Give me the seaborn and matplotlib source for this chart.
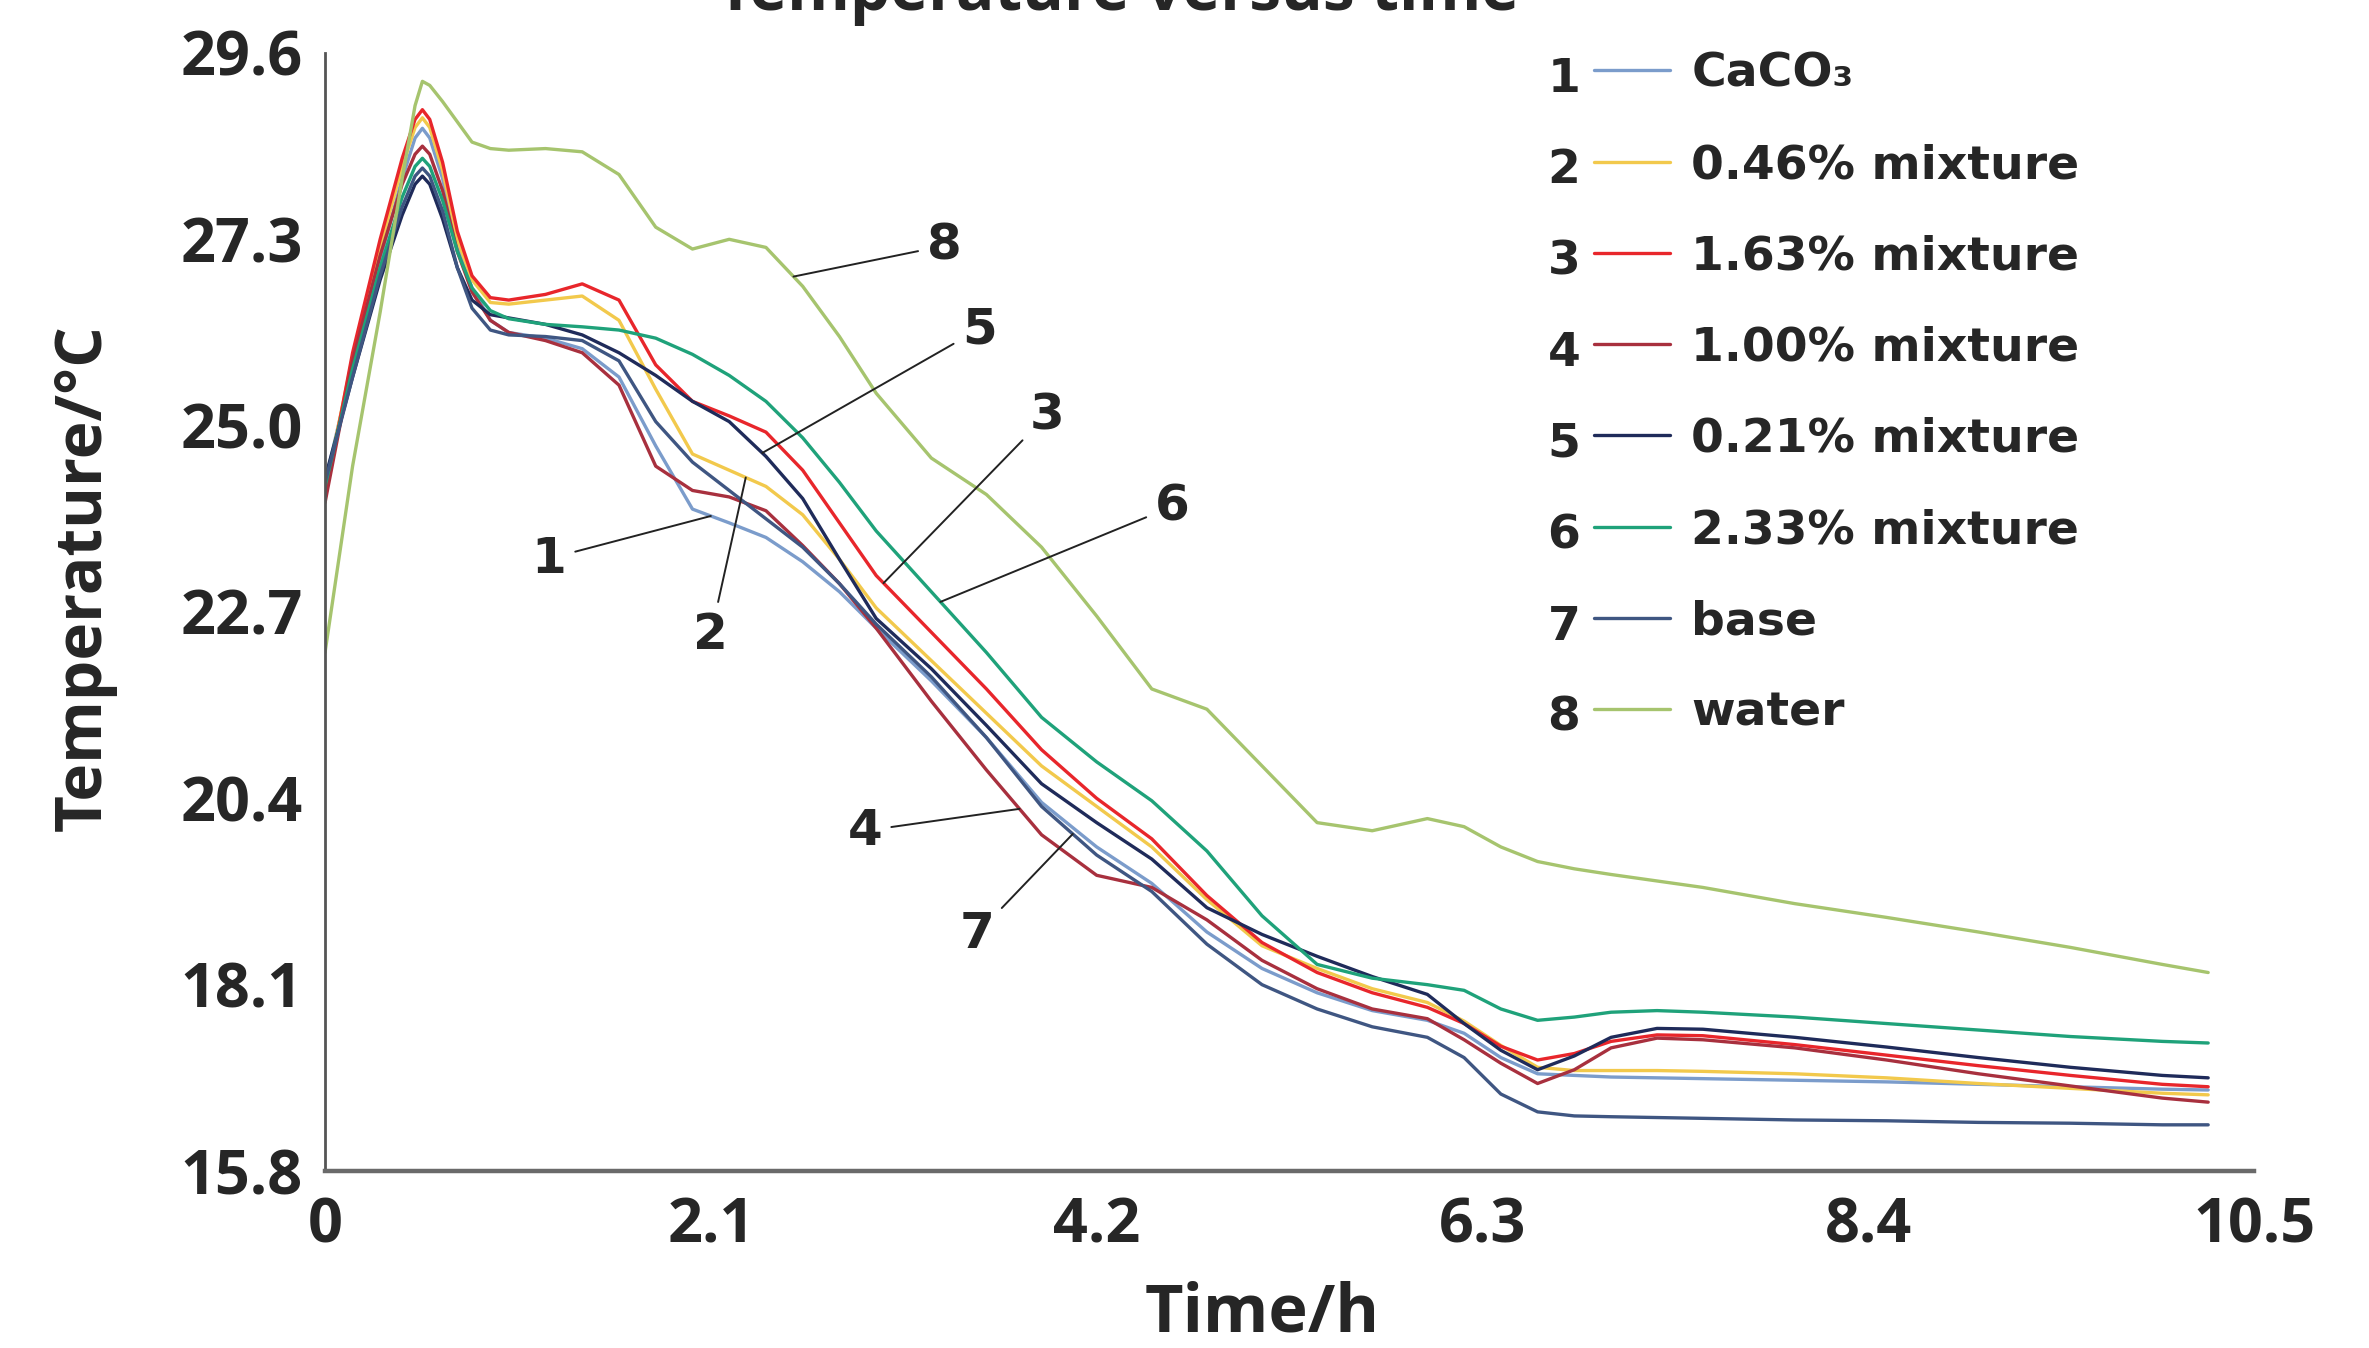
import matplotlib
matplotlib.use("Agg")
import numpy as np
import pandas as pd
import matplotlib.pyplot as plt
import matplotlib.transforms as mtransforms
from matplotlib.lines import Line2D
import seaborn as sns

# data (time in h, temperature in degC)
time_h = [0, 0.15, 0.3, 0.42, 0.49, 0.53, 0.57, 0.64, 0.72, 0.8, 0.9, 1.0, 1.2, 1.4, 1.6, 1.8, 2.0,
          2.2, 2.4, 2.6, 2.8, 3.0, 3.3, 3.6, 3.9, 4.2, 4.5, 4.8, 5.1, 5.4, 5.7,
          6.0, 6.2, 6.4, 6.6, 6.8, 7.0, 7.25, 7.5, 8.0, 8.5, 9.0, 9.5, 10.0, 10.25]

caco3 = [24.3, 25.75, 27.05, 28.05, 28.55, 28.67, 28.55, 28.05, 27.2, 26.7, 26.3, 26.15, 26.08, 25.95,
         25.6, 24.75, 23.97, 23.8, 23.62, 23.32, 22.95, 22.5, 21.85, 21.15, 20.35, 19.8, 19.35, 18.75,
         18.3, 18.0, 17.78, 17.66, 17.5, 17.2, 17.0, 16.98, 16.96, 16.95, 16.94, 16.92, 16.9, 16.87,
         16.84, 16.81, 16.8]
mix_046 = [24.2, 25.85, 27.2, 28.2, 28.68, 28.8, 28.68, 28.15, 27.3, 26.8, 26.52, 26.5, 26.55, 26.6,
           26.3, 25.45, 24.65, 24.45, 24.25, 23.9, 23.35, 22.75, 22.1, 21.45, 20.8, 20.3, 19.8, 19.15,
           18.58, 18.3, 18.05, 17.88, 17.65, 17.35, 17.08, 17.04, 17.04, 17.04, 17.03, 17.0, 16.95,
           16.88, 16.82, 16.76, 16.74]
mix_163 = [24.1, 25.9, 27.3, 28.3, 28.78, 28.9, 28.78, 28.25, 27.4, 26.85, 26.58, 26.55, 26.62, 26.75,
           26.55, 25.75, 25.3, 25.12, 24.92, 24.45, 23.8, 23.15, 22.45, 21.75, 21.0, 20.4, 19.9, 19.2,
           18.62, 18.25, 18.0, 17.82, 17.62, 17.34, 17.17, 17.25, 17.4, 17.48, 17.47, 17.36, 17.23,
           17.1, 16.98, 16.87, 16.84]
mix_100 = [24.05, 25.8, 27.1, 27.98, 28.35, 28.45, 28.35, 27.9, 27.15, 26.65, 26.3, 26.15, 26.05, 25.9,
           25.5, 24.5, 24.2, 24.12, 23.95, 23.52, 23.05, 22.5, 21.6, 20.75, 19.95, 19.45, 19.3, 18.9,
           18.4, 18.05, 17.8, 17.68, 17.42, 17.13, 16.88, 17.05, 17.32, 17.44, 17.42, 17.32, 17.17,
           17.0, 16.85, 16.7, 16.65]
mix_021 = [24.35, 25.6, 26.8, 27.6, 27.98, 28.08, 27.98, 27.55, 26.95, 26.55, 26.37, 26.33, 26.25, 26.12,
           25.9, 25.62, 25.3, 25.05, 24.62, 24.1, 23.35, 22.62, 22.0, 21.3, 20.58, 20.1, 19.65, 19.05,
           18.72, 18.45, 18.2, 17.98, 17.62, 17.29, 17.05, 17.22, 17.45, 17.56, 17.55, 17.45, 17.33,
           17.2, 17.08, 16.98, 16.95]
mix_233 = [24.25, 25.7, 26.95, 27.82, 28.2, 28.3, 28.2, 27.78, 27.15, 26.7, 26.42, 26.32, 26.25, 26.22,
           26.18, 26.08, 25.88, 25.62, 25.3, 24.85, 24.3, 23.7, 22.95, 22.2, 21.4, 20.85, 20.37, 19.75,
           18.95, 18.35, 18.18, 18.1, 18.03, 17.8, 17.66, 17.7, 17.76, 17.78, 17.76, 17.7, 17.62,
           17.54, 17.46, 17.4, 17.38]
base = [24.3, 25.6, 26.85, 27.7, 28.08, 28.18, 28.08, 27.65, 26.95, 26.45, 26.18, 26.12, 26.1, 26.05,
        25.8, 25.05, 24.55, 24.2, 23.85, 23.5, 23.05, 22.55, 21.9, 21.15, 20.3, 19.7, 19.25, 18.6,
        18.1, 17.8, 17.58, 17.45, 17.2, 16.75, 16.53, 16.48, 16.47, 16.46, 16.45, 16.43, 16.42,
        16.4, 16.39, 16.37, 16.37]
water = [22.2, 24.5, 26.4, 28.05, 28.95, 29.25, 29.2, 29.0, 28.75, 28.5, 28.42, 28.4, 28.42, 28.38,
         28.1, 27.45, 27.18, 27.3, 27.2, 26.72, 26.1, 25.4, 24.6, 24.15, 23.5, 22.65, 21.75, 21.5,
         20.8, 20.1, 20.0, 20.15, 20.05, 19.8, 19.62, 19.53, 19.46, 19.38, 19.3, 19.1, 18.93,
         18.75, 18.56, 18.35, 18.25]

series_names = ["CaCO\u2083", "0.46% mixture", "1.63% mixture", "1.00% mixture",
                "0.21% mixture", "2.33% mixture", "base", "water"]
series_values = [caco3, mix_046, mix_163, mix_100, mix_021, mix_233, base, water]
colors = ["#7b9ccb", "#f2c94c", "#e8262b", "#a8303e", "#1f2b5a", "#1fa27a", "#3f5682", "#a6c46e"]

x_ticks = [0, 2.1, 4.2, 6.3, 8.4, 10.5]
x_tick_labels = ["0", "2.1", "4.2", "6.3", "8.4", "10.5"]
y_ticks = [15.8, 18.1, 20.4, 22.7, 25.0, 27.3, 29.6]
y_tick_labels = ["15.8", "18.1", "20.4", "22.7", "25.0", "27.3", "29.6"]

# curve labels: number, text position (t, T), time where the leader touches the curve
callouts = [(1, 1.22, 23.36, 2.10), (2, 2.10, 22.42, 2.29), (3, 3.93, 25.13, 3.04),
            (4, 2.94, 20.00, 3.78), (5, 3.56, 26.19, 2.38), (6, 4.61, 24.00, 3.35),
            (7, 3.55, 18.73, 4.07), (8, 3.37, 27.22, 2.55)]

long = pd.concat([pd.DataFrame({"time": time_h, "temp": v, "series": n})
                  for n, v in zip(series_names, series_values)], ignore_index=True)

sns.set_theme(style="white")
plt.rcParams["font.family"] = ["Open Sans", "DejaVu Sans"]

fig, ax = plt.subplots(figsize=(23.69, 13.48), dpi=100)
fig.subplots_adjust(left=0.1372, right=0.9515, bottom=0.1313, top=0.9607)

sns.lineplot(data=long, x="time", y="temp", hue="series", hue_order=series_names,
             palette=dict(zip(series_names, colors)), estimator=None, sort=False,
             linewidth=2.4, legend=False, ax=ax)

ax.set_xlim(0, 10.5)
ax.set_ylim(15.8, 29.6)
ax.set_xticks(x_ticks)
ax.set_xticklabels(x_tick_labels, fontsize=44, fontweight="bold")
ax.set_yticks(y_ticks)
ax.set_yticklabels(y_tick_labels, fontsize=44, fontweight="bold")
ax.tick_params(axis="x", direction="in", length=22, width=1.5, color="#555555", pad=18)
ax.tick_params(axis="y", direction="in", length=10, width=1.5, color="#555555", pad=16)
sns.despine(ax=ax)
ax.spines["bottom"].set_linewidth(3.2)
ax.spines["bottom"].set_color("#6a6a6a")
ax.spines["left"].set_linewidth(2)
ax.spines["left"].set_color("#555555")

ax.set_xlabel("Time/h", fontsize=48, fontweight="bold")
ax.set_ylabel("Temperature/\u00b0C", fontsize=46, fontweight="bold")
ax.xaxis.set_label_coords(0.486, -0.098)
ax.yaxis.set_label_coords(-0.108, 0.531)

fig.text(0.472, 0.9926, "Temperature versus time", ha="center", va="baseline",
         fontsize=46, fontweight="bold")

for num, tx, ty, t_hit in callouts:
    y_hit = np.interp(t_hit, time_h, series_values[num - 1])
    ax.annotate(str(num), xy=(t_hit, y_hit), xytext=(tx, ty), ha="center", va="center",
                fontsize=36, fontweight="bold", family="DejaVu Sans",
                arrowprops=dict(arrowstyle="-", color="#222222", lw=1.4, shrinkA=4, shrinkB=0))

handles = [Line2D([], [], color=c, lw=2.4) for c in colors]
leg = ax.legend(handles, series_names, loc="upper left", bbox_to_anchor=(0.658, 1.001),
                frameon=False, prop={"family": "DejaVu Sans", "weight": "bold", "size": 34},
                handlelength=1.6, handletextpad=0.45, labelspacing=0.98,
                borderpad=0, borderaxespad=0)

fig.canvas.draw()
renderer = fig.canvas.get_renderer()
for i, (line, txt) in enumerate(zip(leg.get_lines(), leg.get_texts())):
    lb = line.get_window_extent(renderer)
    tb = txt.get_window_extent(renderer)
    fig.text(lb.x0 - 14, (tb.y0 + tb.y1) / 2 - 5, str(i + 1), ha="right", va="center",
             fontsize=34, fontweight="bold", family="DejaVu Sans",
             transform=mtransforms.IdentityTransform())

fig.savefig("out.png", dpi=100)
